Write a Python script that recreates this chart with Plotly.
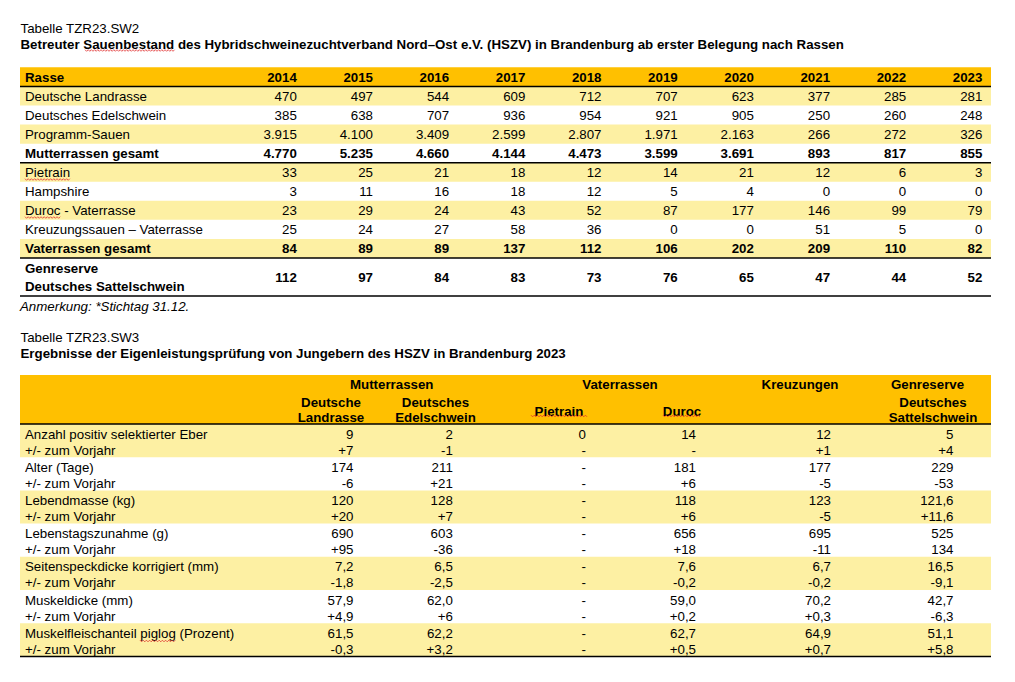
import plotly.graph_objects as go

# ------------------------------------------------------------------ data
title1_a = "Tabelle TZR23.SW2"
title1_b = ("Betreuter Sauenbestand des Hybridschweinezuchtverband Nord–Ost e.V. (HSZV) "
            "in Brandenburg ab erster Belegung nach Rassen")
t1_head = "Rasse"
years = ["2014", "2015", "2016", "2017", "2018", "2019", "2020", "2021", "2022", "2023"]
t1_labels = ["Deutsche Landrasse", "Deutsches Edelschwein", "Programm-Sauen",
             "Mutterrassen gesamt", "Pietrain", "Hampshire", "Duroc - Vaterrasse",
             "Kreuzungssauen – Vaterrasse", "Vaterrassen gesamt"]
deutsche_landrasse = [470, 497, 544, 609, 712, 707, 623, 377, 285, 281]
deutsches_edelschwein = [385, 638, 707, 936, 954, 921, 905, 250, 260, 248]
programm_sauen = [3915, 4100, 3409, 2599, 2807, 1971, 2163, 266, 272, 326]
mutterrassen_gesamt = [4770, 5235, 4660, 4144, 4473, 3599, 3691, 893, 817, 855]
pietrain = [33, 25, 21, 18, 12, 14, 21, 12, 6, 3]
hampshire = [3, 11, 16, 18, 12, 5, 4, 0, 0, 0]
duroc_vaterrasse = [23, 29, 24, 43, 52, 87, 177, 146, 99, 79]
kreuzungssauen = [25, 24, 27, 58, 36, 0, 0, 51, 5, 0]
vaterrassen_gesamt = [84, 89, 89, 137, 112, 106, 202, 209, 110, 82]
t1_bold = [False, False, False, True, False, False, False, False, True]
genreserve_label = ["Genreserve", "Deutsches Sattelschwein"]
genreserve = [112, 97, 84, 83, 73, 76, 65, 47, 44, 52]
note1 = "Anmerkung: *Stichtag 31.12."

title2_a = "Tabelle TZR23.SW3"
title2_b = "Ergebnisse der Eigenleistungsprüfung von Jungebern des HSZV in Brandenburg 2023"
t2_groups = ["Mutterrassen", "Vaterrassen", "Kreuzungen", "Genreserve"]
t2_sub = [["Deutsche", "Landrasse"], ["Deutsches", "Edelschwein"], ["Pietrain"], ["Duroc"],
          [], ["Deutsches", "Sattelschwein"]]
t2_traits = ["Anzahl positiv selektierter Eber", "Alter (Tage)", "Lebendmasse (kg)",
             "Lebenstagszunahme (g)", "Seitenspeckdicke korrigiert (mm)", "Muskeldicke (mm)",
             "Muskelfleischanteil piglog (Prozent)"]
t2_delta_label = "+/- zum Vorjahr"
dl_values = ["9", "174", "120", "690", "7,2", "57,9", "61,5"]
dl_delta = ["+7", "-6", "+20", "+95", "-1,8", "+4,9", "-0,3"]
de_values = ["2", "211", "128", "603", "6,5", "62,0", "62,2"]
de_delta = ["-1", "+21", "+7", "-36", "-2,5", "+6", "+3,2"]
pi_values = ["0", "-", "-", "-", "-", "-", "-"]
pi_delta = ["-", "-", "-", "-", "-", "-", "-"]
du_values = ["14", "181", "118", "656", "7,6", "59,0", "62,7"]
du_delta = ["-", "+6", "+6", "+18", "-0,2", "+0,2", "+0,5"]
kr_values = ["12", "177", "123", "695", "6,7", "70,2", "64,9"]
kr_delta = ["+1", "-5", "-5", "-11", "-0,2", "+0,3", "+0,7"]
gr_values = ["5", "229", "121,6", "525", "16,5", "42,7", "51,1"]
gr_delta = ["+4", "-53", "+11,6", "134", "-9,1", "-6,3", "+5,8"]

# ------------------------------------------------------------------ styling / geometry
W, H = 1015, 682
PAGE_OFF = 8          # default body margin of the html page
FONT = "Liberation Sans, Arial, sans-serif"
FS = 13.3
TEXT_DY = 1.5         # shift so glyphs sit visually centred in their rows
ORANGE = "#FFC000"
YELLOW = "#FDF0A3"
X0, X1 = 20, 991
LABEL_X = 25

T1_TITLE_Y = (28.5, 44.5)
T1_HEAD = (67.3, 86.5)
T1_ROW_H = 19.05
T1_GEN_H = 38
T1_COL0, T1_STEP = 296.8, 76.18

T2_TITLE_Y = (336.7, 352.7)
T2_HEAD = (375, 424)
T2_BAND = 33.2
T2_LINE_OFF = (9.8, 25.8)
T2_COL_X = [353.5, 452.8, 586, 696, 831, 953.5]
T2_GROUP_X = [391.7, 620, 800, 927.5]
T2_SUB_X = [331, 435.5, 559, 682, None, 933]
T2_GROUP_Y = 384.3
T2_SUB_Y2 = (401.7, 416.7)
T2_SUB_Y1 = 411

# spell-check squiggles (x0, x1, y) under flagged words
SQUIGGLES = [(85, 175, 50.5), (25, 70, 179.5), (25, 61, 217.5),
             (531, 588, 416), (663, 701, 416), (140, 176, 641)]

fig = go.Figure()
shapes = []


def fmt(v):
    return f"{v:,}".replace(",", ".")


def add_text(xs, ys, texts, pos, bold=False, italic=False):
    t = list(texts)
    if bold:
        t = [f"<b>{s}</b>" for s in t]
    if italic:
        t = [f"<i>{s}</i>" for s in t]
    fig.add_trace(go.Scatter(x=list(xs), y=[y + TEXT_DY for y in ys], text=t, mode="text",
                             textposition=pos, hoverinfo="skip", showlegend=False,
                             textfont=dict(family=FONT, size=FS, color="#000000")))


def rect(y0, y1, color):
    shapes.append(dict(type="rect", xref="x", yref="y", x0=X0, x1=X1, y0=y0, y1=y1,
                       fillcolor=color, line=dict(width=0), layer="below"))


def hline(y, w=1.5):
    shapes.append(dict(type="line", xref="x", yref="y", x0=X0, x1=X1, y0=y, y1=y,
                       line=dict(color="#000000", width=w), layer="above"))


def squiggle(x0, x1, y):
    pts, x, k = [], x0, 0
    while x <= x1:
        pts.append(f"{x:.1f},{y + (0.8 if k % 2 else -0.8):.1f}")
        x += 1.6
        k += 1
    shapes.append(dict(type="path", xref="x", yref="y", path="M" + " L".join(pts),
                       line=dict(color="#E03030", width=0.8), layer="above"))


# ------------------------------------------------------------------ table 1
add_text([X0 + 0.5], [T1_TITLE_Y[0]], [title1_a], "middle right")
add_text([X0 + 0.5], [T1_TITLE_Y[1]], [title1_b], "middle right", bold=True)

rect(T1_HEAD[0], T1_HEAD[1], ORANGE)
hy = (T1_HEAD[0] + T1_HEAD[1]) / 2
add_text([LABEL_X], [hy], [t1_head], "middle right", bold=True)
col_x = [T1_COL0 + T1_STEP * i for i in range(len(years))]
add_text(col_x, [hy] * len(years), years, "middle left", bold=True)

t1_series = [deutsche_landrasse, deutsches_edelschwein, programm_sauen, mutterrassen_gesamt,
             pietrain, hampshire, duroc_vaterrasse, kreuzungssauen, vaterrassen_gesamt]
for i, (lab, vals, b) in enumerate(zip(t1_labels, t1_series, t1_bold)):
    top = T1_HEAD[1] + i * T1_ROW_H
    if i % 2 == 0:
        rect(top, top + T1_ROW_H, YELLOW)
    yc = top + T1_ROW_H / 2
    add_text([LABEL_X], [yc], [lab], "middle right", bold=b)
    add_text(col_x, [yc] * len(vals), [fmt(v) for v in vals], "middle left", bold=b)

gen_top = T1_HEAD[1] + len(t1_labels) * T1_ROW_H
gen_bot = gen_top + T1_GEN_H
add_text([LABEL_X, LABEL_X], [gen_top + 10.3, gen_top + 28.7], genreserve_label,
         "middle right", bold=True)
add_text(col_x, [gen_top + T1_GEN_H / 2] * len(genreserve), [fmt(v) for v in genreserve],
         "middle left", bold=True)

hline(T1_HEAD[1])
hline(T1_HEAD[1] + 4 * T1_ROW_H)
hline(gen_top)
hline(gen_bot)
add_text([X0], [gen_bot + 10], [note1], "middle right", italic=True)

# ------------------------------------------------------------------ table 2
add_text([X0 + 0.5], [T2_TITLE_Y[0]], [title2_a], "middle right")
add_text([X0 + 0.5], [T2_TITLE_Y[1]], [title2_b], "middle right", bold=True)

rect(T2_HEAD[0], T2_HEAD[1], ORANGE)
add_text(T2_GROUP_X, [T2_GROUP_Y] * 4, t2_groups, "middle center", bold=True)
for sx, sub in zip(T2_SUB_X, t2_sub):
    if len(sub) == 2:
        add_text([sx, sx], list(T2_SUB_Y2), sub, "middle center", bold=True)
    elif len(sub) == 1:
        add_text([sx], [T2_SUB_Y1], sub, "middle center", bold=True)

t2_cols = [(dl_values, dl_delta), (de_values, de_delta), (pi_values, pi_delta),
           (du_values, du_delta), (kr_values, kr_delta), (gr_values, gr_delta)]
for i, trait in enumerate(t2_traits):
    top = T2_HEAD[1] + i * T2_BAND
    if i % 2 == 0:
        rect(top, top + T2_BAND, YELLOW)
    y1, y2 = top + T2_LINE_OFF[0], top + T2_LINE_OFF[1]
    add_text([LABEL_X, LABEL_X], [y1, y2], [trait, t2_delta_label], "middle right")
for cx, (vals, deltas) in zip(T2_COL_X, t2_cols):
    ys, ts = [], []
    for i in range(len(vals)):
        top = T2_HEAD[1] + i * T2_BAND
        ys += [top + T2_LINE_OFF[0], top + T2_LINE_OFF[1]]
        ts += [vals[i], deltas[i]]
    add_text([cx] * len(ys), ys, ts, "middle left")

hline(T2_HEAD[1])
hline(T2_HEAD[1] + len(t2_traits) * T2_BAND)

for sq in SQUIGGLES:
    squiggle(*sq)

fig.update_layout(
    width=W - PAGE_OFF, height=H - PAGE_OFF,
    margin=dict(l=0, r=0, t=0, b=0),
    paper_bgcolor="#FFFFFF", plot_bgcolor="#FFFFFF",
    xaxis=dict(range=[PAGE_OFF, W], visible=False, fixedrange=True),
    yaxis=dict(range=[H, PAGE_OFF], visible=False, fixedrange=True),
    shapes=shapes,
    showlegend=False,
)

fig.write_html("out.html", config={"displayModeBar": False})
